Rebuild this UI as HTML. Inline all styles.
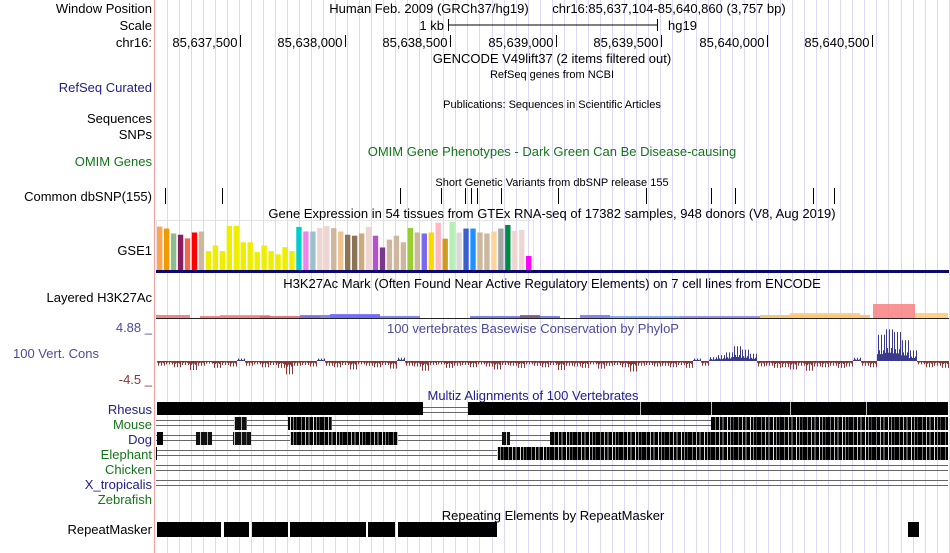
<!DOCTYPE html>
<html><head><meta charset="utf-8">
<style>
html,body{margin:0;padding:0;background:#fff;}
svg{display:block;font-family:"Liberation Sans",sans-serif;}
</style></head>
<body>
<svg id="c" width="950" height="553" viewBox="0 0 950 553">
<defs>
<pattern id="mott" width="23" height="10" patternUnits="userSpaceOnUse">
<rect width="23" height="10" fill="#000"/>
<rect x="2" width="1" height="10" fill="#777"/><rect x="6" width="1" height="10" fill="#bbb"/>
<rect x="9" width="2" height="10" fill="#555"/><rect x="14" width="1" height="10" fill="#ddd"/>
<rect x="17" width="1" height="10" fill="#888"/><rect x="20" width="1" height="10" fill="#444"/>
</pattern>
<pattern id="mott2" width="17" height="10" patternUnits="userSpaceOnUse">
<rect width="17" height="10" fill="#111"/>
<rect x="3" width="1" height="10" fill="#aaa"/><rect x="8" width="1" height="10" fill="#666"/><rect x="13" width="1" height="10" fill="#ccc"/>
</pattern>
</defs>
<g id="grid"></g>
<line x1="154.5" y1="0" x2="154.5" y2="553" stroke="#f4a0a0"/>

<g font-size="13" fill="#000" text-anchor="end">
<text x="152" y="13">Window Position</text>
<text x="152" y="30">Scale</text>
<text x="152" y="47">chr16:</text>
<text x="152" y="92" fill="#20208a">RefSeq Curated</text>
<text x="152" y="123">Sequences</text>
<text x="152" y="139">SNPs</text>
<text x="152" y="166" fill="#13741a">OMIM Genes</text>
<text x="152" y="201">Common dbSNP(155)</text>
<text x="152" y="255">GSE1</text>
<text x="152" y="302">Layered H3K27Ac</text>
<text x="152" y="332" fill="#4b4b9b">4.88 _</text>
<text x="152" y="384" fill="#8b3535">-4.5 _</text>
<text x="152" y="414" fill="#20208a">Rhesus</text>
<text x="152" y="429" fill="#13741a">Mouse</text>
<text x="152" y="444" fill="#20208a">Dog</text>
<text x="152" y="459" fill="#13741a">Elephant</text>
<text x="152" y="474" fill="#13741a">Chicken</text>
<text x="152" y="489" fill="#20208a">X_tropicalis</text>
<text x="152" y="504" fill="#13741a">Zebrafish</text>
<text x="152" y="534">RepeatMasker</text>
</g>
<text x="13" y="358" font-size="13" fill="#4b4b9b">100 Vert. Cons</text>

<g font-size="13" text-anchor="middle">
<text x="429" y="13">Human Feb. 2009 (GRCh37/hg19)</text>
<text x="669" y="13">chr16:85,637,104-85,640,860 (3,757 bp)</text>
<text x="444" y="30" text-anchor="end">1 kb</text>
<text x="668" y="30" text-anchor="start">hg19</text>
<text x="552" y="63">GENCODE V49lift37 (2 items filtered out)</text>
<text x="552" y="78" font-size="11">RefSeq genes from NCBI</text>
<text x="552" y="108" font-size="11">Publications: Sequences in Scientific Articles</text>
<text x="552" y="156" fill="#13741a">OMIM Gene Phenotypes - Dark Green Can Be Disease-causing</text>
<text x="552" y="186" font-size="11">Short Genetic Variants from dbSNP release 155</text>
<text x="552" y="218">Gene Expression in 54 tissues from GTEx RNA-seq of 17382 samples, 948 donors (V8, Aug 2019)</text>
<text x="552" y="288">H3K27Ac Mark (Often Found Near Active Regulatory Elements) on 7 cell lines from ENCODE</text>
<text x="533" y="333" fill="#4b4b9b">100 vertebrates Basewise Conservation by PhyloP</text>
<text x="533" y="400" fill="#20208a">Multiz Alignments of 100 Vertebrates</text>
<text x="553" y="520">Repeating Elements by RepeatMasker</text>
</g>
<g stroke="#000">
<line x1="448" y1="25" x2="658" y2="25"/><line x1="448.5" y1="19" x2="448.5" y2="31"/><line x1="657.5" y1="19" x2="657.5" y2="31"/>
</g>
<g id="ruler" font-size="13" text-anchor="end"></g>
<g id="snps"></g>
<rect x="156.5" y="220.5" width="377" height="50" fill="none" stroke="#e4e4e4"/>
<g id="gtex"></g>
<rect x="156" y="270" width="793" height="3" fill="#0a0a6e"/>
<g id="h3k"></g>
<g id="cons"></g>
<g id="multiz"></g>
<g id="rmsk"></g>
</svg>
<script>
const NS="http://www.w3.org/2000/svg";
function mk(p,tag,a){const e=document.createElementNS(NS,tag);for(const k in a)e.setAttribute(k,a[k]);p.appendChild(e);return e;}

const chromStart=85637104, chromEnd=85640860;
const rulerTicks=[85637500,85638000,85638500,85639000,85639500,85640000,85640500];
const snpPositions=[85637145,85637417,85638260,85638455,85638570,85638595,85638625,85638738,85639008,85639425,85639733,85639847,85640217,85640317];
const gtexValues=[44.3,42.3,37.3,36,32.3,38.3,39.3,19.3,25,19.3,45,45,28.3,28.3,18.3,25,19.3,16,23.3,19.3,44,39.3,39.3,43,45,42.7,39.3,36,35,37.3,44,35,23,31,35,28.3,43,38.3,37.3,38.3,48.3,32,49,38.3,42.3,42.3,38.3,37.3,39.3,42.3,46,40,41,14.3];
const gtexColors=["#FFA54F","#EE9A00","#8FBC8F","#8B1C62","#EE6A50","#FF0000","#CDB79E","#EEEE00","#EEEE00","#EEEE00","#EEEE00","#EEEE00","#EEEE00","#EEEE00","#EEEE00","#EEEE00","#EEEE00","#EEEE00","#EEEE00","#EEEE00","#00CDCD","#EE82EE","#9AC0CD","#EED5D2","#EED5D2","#CDB79E","#EEC591","#8B7355","#8B7355","#CDAA7D","#EED5D2","#B452CD","#7A378B","#CDB79E","#CDB79E","#CDB79E","#9ACD32","#CDB79E","#7B68EE","#FFD700","#FFB6C1","#CD9B1D","#B4EEB4","#D9D9D9","#3A5FCD","#1E90FF","#CDB79E","#CDB79E","#FFD39B","#A6A6A6","#008B45","#EED5D2","#EED5D2","#FF00FF"];
const consValues=[-0.6,-0.4,-0.8,-0.5,-1.2,-0.6,-0.3,-0.9,-0.5,-0.7,0.3,-0.6,-0.4,-0.8,-0.5,-0.9,-1.8,-0.6,-0.5,-0.7,0.3,-0.6,-0.8,-0.5,-1.1,-0.4,-0.6,-0.8,-0.5,-1.0,0.4,-0.6,-0.7,-1.3,-0.5,-0.4,-0.9,-0.6,-0.5,-0.8,-0.4,-0.7,-1.1,-0.5,-0.6,-0.9,-0.4,-0.6,-0.8,-0.5,-1.2,-0.6,-0.7,-0.9,-0.4,-1.0,-0.6,-0.5,-0.8,-1.4,-0.6,-0.5,-0.7,-0.6,-0.8,-0.5,-0.9,0.3,-0.6,0.5,0.8,1.2,2.1,1.6,1.0,-0.7,-0.6,-0.9,-0.8,-1.1,-0.6,-1.3,-0.7,-0.8,-0.6,-0.9,-0.7,0.4,-0.6,-0.8,3.8,4.6,4.2,3.0,1.5,-0.4,-0.8,-0.6,-0.9];
const consMax=4.88, consMin=-4.5;

const x0=156, x1=948.5;
const xs=p=>x0+(p-chromStart)/(chromEnd-chromStart+1)*(x1-x0);

const grid=document.getElementById('grid');
for(let gx=166.7;gx<949;gx+=12.03){
  const l=mk(grid,'line',{x1:Math.round(gx)+.5,y1:0,x2:Math.round(gx)+.5,y2:553,stroke:'#dcd8f6'});
  
  
}
const ruler=document.getElementById('ruler');
rulerTicks.forEach(p=>{
  const x=Math.round(xs(p))+.5;
  const l=mk(ruler,'line',{x1:x,y1:35,x2:x,y2:47,stroke:'#000'});
  
  
  const t=mk(ruler,'text',{x:x-3,y:47});
  t.textContent=p.toLocaleString('en-US');
  
  
});
const snps=document.getElementById('snps');
snpPositions.forEach(p=>{
  const x=Math.round(xs(p))+.5;
  const l=mk(snps,'line',{x1:x,y1:188,x2:x,y2:204,stroke:'#000'});
  
  
});
const gtex=document.getElementById('gtex');
const gBase=270, gScale=48/Math.max(...gtexValues), gStep=376/gtexValues.length;
gtexValues.forEach((v,i)=>{
  const h=v*gScale;
  const r=mk(gtex,'rect',{x:157+i*gStep,y:gBase-h,width:gStep-1.6,height:h,fill:gtexColors[i]});
  
  
});
const h3k=document.getElementById('h3k');
const h3kSegs=[[156,190,3,'#f07070'],[200,260,2,'#f07070'],[220,270,3,'#ff7f7f'],[260,320,2,'#e06060'],[300,380,3,'#7070f0'],[330,380,4,'#6a6aff'],[380,420,2,'#7070f0'],[470,560,2,'#6070e0'],[520,540,3,'#7a5a7a'],[580,610,3,'#7070f0'],[610,680,2,'#70a0f0'],[680,760,2,'#8080e0'],[760,870,3,'#f0c060'],[790,860,5,'#ffc870'],[873,915,14,'#f98080'],[915,948,5,'#ffc870']];
h3kSegs.forEach(s=>{
  const r=mk(h3k,'rect',{x:s[0],y:318-s[2],width:s[1]-s[0],height:s[2],fill:s[3],opacity:0.85});
  
  
});
mk(h3k,'line',{x1:156,y1:318.5,x2:949,y2:318.5,stroke:'#222'});
const cons=document.getElementById('cons');
const zeroY=361, upS=33/consMax, dnS=32/(-consMin);
consValues.forEach((v,i)=>{
  const cx=157+i*8;
  for(let k=0;k<8;k++){
    const f=(k%3===1)?1:(k%4===2?0.4:0.25);
    const vv=v*f;
    const y2=vv>=0?zeroY-vv*upS:zeroY-vv*dnS;
    const l=mk(cons,'line',{x1:cx+k+.5,y1:zeroY,x2:cx+k+.5,y2:y2+(vv>=0?-0.5:0.5),stroke:vv>=0?'#3a3a8c':'#8b3535'});
    
    
  }
});
const multiz=document.getElementById('multiz');
const rowsY={rhesus:402,mouse:417,dog:432,elephant:447,chicken:462,xtrop:477};
const blocks={
 rhesus:[[157,423,'#000'],[468,948,'#000']],
 mouse:[[234,247,'url(#mott2)'],[288,332,'url(#mott)'],[711,948,'url(#mott)']],
 dog:[[157,163,'#000'],[196,212,'url(#mott2)'],[233,251,'url(#mott2)'],[290,398,'url(#mott)'],[502,510,'url(#mott2)'],[550,948,'url(#mott)']],
 elephant:[[156,157,'#000'],[497,948,'url(#mott)']],
 chicken:[],xtrop:[]
};
for(const k in rowsY){
  const y=rowsY[k];
  if(k!=='rhesus'){
    mk(multiz,'line',{x1:156,y1:y+3.5,x2:948,y2:y+3.5,stroke:'#666'});
    mk(multiz,'line',{x1:156,y1:y+8.5,x2:948,y2:y+8.5,stroke:'#666'});
  } else {
    mk(multiz,'line',{x1:423,y1:y+5.5,x2:468,y2:y+5.5,stroke:'#666'});
    mk(multiz,'line',{x1:423,y1:y+10.5,x2:468,y2:y+10.5,stroke:'#666'});
  }
  blocks[k].forEach(b=>{
    const r=mk(multiz,'rect',{x:b[0],y:y,width:b[1]-b[0],height:13,fill:b[2]});
    
    
  });
}
[[640,1],[711,1],[866,1],[790,1]].forEach(g=>mk(multiz,'rect',{x:g[0],y:402,width:g[1],height:13,fill:'#bbb'}));
const rmsk=document.getElementById('rmsk');
[[157,221],[224,249],[252,288],[290,366],[368,395],[398,497],[908,919]].forEach(b=>{
  const r=mk(rmsk,'rect',{x:b[0],y:522,width:b[1]-b[0],height:15,fill:'#000'});
  
  
});
</script>
</body></html>
